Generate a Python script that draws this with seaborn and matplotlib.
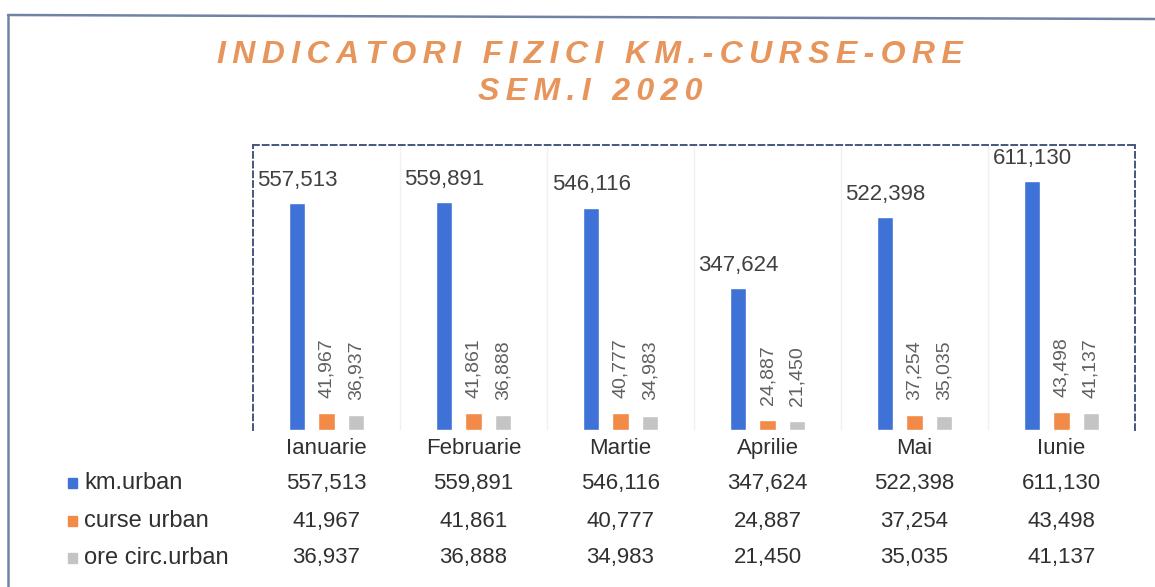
import pandas as pd
import matplotlib.pyplot as plt
import matplotlib.transforms as mtransforms
from matplotlib.lines import Line2D
from matplotlib.patches import Rectangle
import seaborn as sns

sns.set_style("white")
plt.rcParams['font.family'] = ['Liberation Sans', 'DejaVu Sans']

# Data
months = ['Ianuarie', 'Februarie', 'Martie', 'Aprilie', 'Mai', 'Iunie']
series_names = ['km.urban', 'curse urban', 'ore circ.urban']
km_urban = [557513, 559891, 546116, 347624, 522398, 611130]
curse_urban = [41967, 41861, 40777, 24887, 37254, 43498]
ore_circ_urban = [36937, 36888, 34983, 21450, 35035, 41137]
colors = ['#3f72d6', '#f28a48', '#c4c4c4']
title_lines = ['INDICATORI FIZICI KM.-CURSE-ORE', 'SEM.I 2020']

df = pd.DataFrame({
    'Luna': months * 3,
    'Serie': [s for s in series_names for _ in months],
    'Valoare': km_urban + curse_urban + ore_circ_urban,
})

fig = plt.figure(figsize=(11.55, 5.87), dpi=100)
W, H = 1155, 587

# outer frame (scanned chart border)
fig.add_artist(Line2D([8 / W, 1.0], [1 - 15 / H, 1 - 19 / H], color='#7083a6', lw=1.8))
fig.add_artist(Line2D([8 / W, 8 / W], [1 - 15 / H, 0], color='#7083a6', lw=1.8))

# title, letter-spaced
for line, y in zip(title_lines, [55, 92]):
    spaced = '\u2009'.join(line)
    fig.text(590 / W, 1 - y / H, spaced, ha='center', va='center', color='#e8955c',
             fontsize=23, fontweight='bold', style='italic')

ax = fig.add_axes([253 / W, 1 - 430 / H, 882 / W, 285 / H])
sns.barplot(data=df, x='Luna', y='Valoare', hue='Serie', palette=colors,
            width=0.6, gap=0.45, ax=ax, legend=False, saturation=1)
ax.set_ylim(0, 700000)
ax.set_xlim(-0.5, 5.5)
ax.set_yticks([])
ax.set_xlabel('')
ax.set_ylabel('')
ax.tick_params(axis='x', length=0, pad=6, labelsize=16, labelcolor='#303030')

for s in ['top', 'left', 'right']:
    ax.spines[s].set_linestyle((0, (3, 2)))
    ax.spines[s].set_color('#44577e')
    ax.spines[s].set_linewidth(1.4)
ax.spines['bottom'].set_visible(False)

# faint separators between months
for i in range(1, len(months)):
    ax.axvline(i - 0.5, color='#f0f0f0', lw=1, zorder=0)

# data labels
for k, cont in enumerate(ax.containers):
    for bar in cont:
        v = bar.get_height()
        xc = bar.get_x() + bar.get_width() / 2
        if k == 0:
            ax.annotate(f'{v:,.0f}', (xc, v), xytext=(0, 9), textcoords='offset points',
                        ha='center', va='bottom', fontsize=16, color='#404040')
        else:
            ax.annotate(f'{v:,.0f}', (xc, v), xytext=(0, 11), textcoords='offset points',
                        ha='center', va='bottom', rotation=90, fontsize=14, color='#606060')

# data table
tr = mtransforms.blended_transform_factory(ax.transData, fig.transFigure)
row_y = [483, 521, 558]
rows = [km_urban, curse_urban, ore_circ_urban]
for r, (name, vals, col) in enumerate(zip(series_names, rows, colors)):
    y = 1 - row_y[r] / H
    fig.add_artist(Rectangle((68 / W, y - 5 / H), 9 / W, 10 / H, color=col,
                             transform=fig.transFigure))
    fig.text(84 / W, y, name, ha='left', va='center', fontsize=17, color='#303030')
    for i, v in enumerate(vals):
        ax.text(i, y, f'{v:,.0f}', transform=tr, ha='center', va='center',
                fontsize=16, color='#303030')

plt.savefig('out.png', dpi=100)
